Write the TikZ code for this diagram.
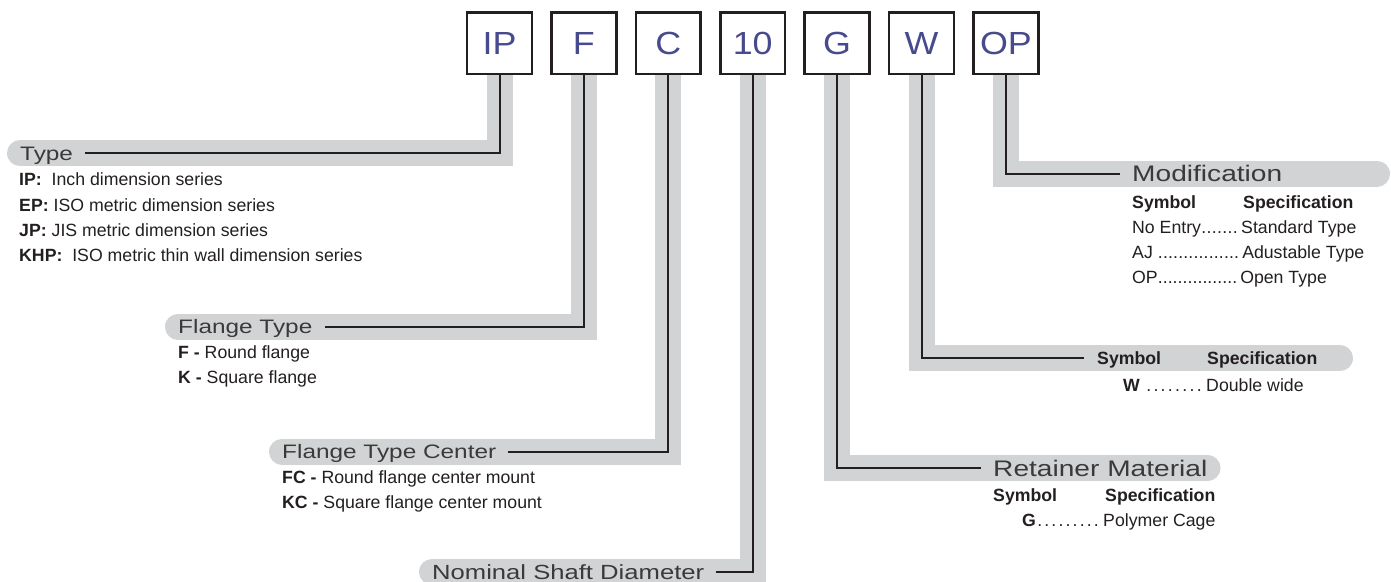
\documentclass[tikz,border=0pt]{standalone}
\usepackage{fontspec}
\setmainfont{Liberation Sans}
\newfontfamily\widefont[FakeStretch=1.25]{Liberation Sans}
\newfontfamily\boxfont[FakeStretch=1.12]{Liberation Sans}
\usetikzlibrary{backgrounds}

\definecolor{bandgray}{HTML}{D1D3D4}
\definecolor{ink}{HTML}{231F20}
\definecolor{hdgray}{HTML}{3A3A3A}
\definecolor{codeblue}{HTML}{474A8C}

\newcommand{\tightdots}{\xleaders\hbox{.}\hfill\hspace*{3pt}}
\newcommand{\spaceddots}{\xleaders\hbox to 6.6pt{\hss.\hss}\hfill\hspace*{3pt}}

\tikzset{
    codebox/.style={draw=ink, line width=2.5pt, fill=white, minimum width=64.8pt,
        minimum height=61.5pt, inner sep=0pt, text height=23pt, text depth=0pt,
        font=\boxfont\fontsize{32}{32}\selectfont, text=codeblue},
    band/.style={draw=bandgray, line width=26pt, line cap=round},
    lead/.style={draw=ink, line width=2pt},
    hdr/.style={anchor=west, inner sep=0pt, text height=0.716*#1pt, text depth=0pt,
        text=hdgray, font=\widefont\fontsize{#1}{#1}\selectfont},
    hdr/.default=19.5,
    desc/.style={anchor=base west, inner sep=0pt, text=ink, font=\fontsize{17.7}{21}\selectfont},
    tabhead/.style={anchor=west, inner sep=0pt, text height=12.7pt, text depth=0pt,
        text=ink, font=\bfseries\fontsize{17.7}{21}\selectfont},
}

\begin{document}
\begin{tikzpicture}[x=1pt, y=-1pt]
    \useasboundingbox (0,0) rectangle (1391,581);

    % Code boxes
    \node[codebox] (IP) at (499.5,43) {IP};
    \node[codebox] (F) at (583.9,43) {F};
    \node[codebox] (C) at (668.3,43) {C};
    \node[codebox] (D) at (752.7,43) {10};
    \node[codebox] (G) at (837.1,43) {G};
    \node[codebox] (W) at (921.5,43) {W};
    \node[codebox] (OP) at (1005.9,43) {OP};

    % Type
    \node[hdr] (type) at (20,153.3) {Type};
    \node[desc] (ip) at (19,185) {\textbf{IP:}\ \ Inch dimension series};
    \node[desc] (ep) at (19,211.7) {\textbf{EP:} ISO metric dimension series};
    \node[desc] (jp) at (19,236.7) {\textbf{JP:} JIS metric dimension series};
    \node[desc] (khp) at (19,261.7) {\textbf{KHP:}\ \ ISO metric thin wall dimension series};

    % Flange type
    \node[hdr] (flange) at (178,326.7) {Flange Type};
    \node[desc] (fround) at (178,358.3) {\textbf{F -} Round flange};
    \node[desc] (fsquare) at (178,383.3) {\textbf{K -} Square flange};

    % Flange type center
    \node[hdr] (center) at (282,451.7) {Flange Type Center};
    \node[desc] (fcround) at (282,483.3) {\textbf{FC -} Round flange center mount};
    \node[desc] (kcsquare) at (282,508.3) {\textbf{KC -} Square flange center mount};

    % Shaft diameter
    \node[hdr=20.5] (shaft) at (432,571.7) {Nominal Shaft Diameter};

    % Retainer
    \node[hdr=22.5] (retainer) at (993,468) {Retainer Material};
    \node[desc, font=\bfseries\fontsize{17.7}{21}\selectfont] (gsym) at (993,501.7)
        {\makebox[112pt][l]{Symbol}Specification};
    \node[desc] (gcage) at (1022,526) {\makebox[81pt][l]{\textbf{G}\spaceddots}Polymer Cage};

    % Width
    \node[tabhead] (wsym) at (1097,358.3) {\makebox[110pt][l]{Symbol}Specification};
    \node[desc] (wwide) at (1123,391.7) {\makebox[83pt][l]{\textbf{W}\ \spaceddots}Double wide};

    % Modification
    \node[hdr=22.5] (modif) at (1132,173.5) {Modification};
    \node[desc, font=\bfseries\fontsize{17.7}{21}\selectfont] (msym) at (1132,208.3)
        {\makebox[111pt][l]{Symbol}Specification};
    \node[desc] (mstd) at (1132,233.8) {\makebox[109pt][l]{No Entry\tightdots}Standard Type};
    \node[desc] (madj) at (1132,258.8) {\makebox[110pt][l]{AJ \tightdots}Adustable Type};
    \node[desc] (mopen) at (1132,283.8) {\makebox[108pt][l]{OP\tightdots}Open Type};

    % Band ends
    \coordinate (wend) at (1340,358.3);
    \coordinate (modend) at (1377,173.5);

    \begin{scope}[on background layer]
        % Gray bands
        \draw[band] (IP.south) |- (type.west);
        \draw[band] (F.south) |- (flange.west);
        \draw[band] (C.south) |- (center.west);
        \draw[band] (D.south) |- (shaft.west);
        \draw[band] (G.south) |- (retainer.east);
        \draw[band] (W.south) |- (wend);
        \draw[band] (OP.south) |- (modend);

        % Black leads
        \draw[lead] (IP.south) |- ([xshift=12pt]type.east);
        \draw[lead] (F.south) |- ([xshift=12pt]flange.east);
        \draw[lead] (C.south) |- ([xshift=12pt]center.east);
        \draw[lead] (D.south) |- ([xshift=12pt]shaft.east);
        \draw[lead] (G.south) |- ([xshift=-12pt]retainer.west);
        \draw[lead] (W.south) |- ([xshift=-13pt]wsym.west);
        \draw[lead] (OP.south) |- ([xshift=-12pt]modif.west);
    \end{scope}
\end{tikzpicture}
\end{document}
